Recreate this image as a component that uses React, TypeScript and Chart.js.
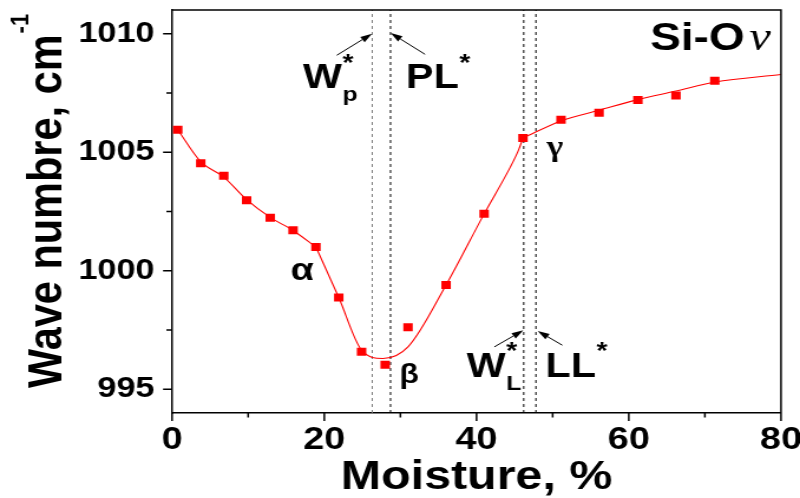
import React, { useEffect, useRef } from "react";
import { Chart, registerables } from "chart.js";

Chart.register(...registerables);

// ---------------- data ----------------
const moisture = [0.75, 3.77, 6.8, 9.8, 12.9, 15.9, 18.9, 21.9, 24.9, 28.0, 31.0, 36.0, 41.0, 46.1, 51.1, 56.1, 61.2, 66.2, 71.3];
const waveNumber = [1005.95, 1004.54, 1004.01, 1002.97, 1002.24, 1001.71, 1001.0, 998.87, 996.58, 996.04, 997.62, 999.4, 1002.41, 1005.6, 1006.37, 1006.67, 1007.2, 1007.39, 1008.02];

// fitted curve, three branches (alpha, beta, gamma)
const fitAlphaX = [0.75, 3.77, 6.8, 9.8, 12.9, 15.9, 18.9];
const fitAlphaY = [1005.95, 1004.6, 1003.95, 1003.0, 1002.25, 1001.7, 1001.0];
const fitBetaX = [18.9, 21.9, 24.9, 27.7, 31.0, 36.0, 41.0, 44.4, 45.5, 46.1];
const fitBetaY = [1001.0, 998.87, 996.65, 996.3, 996.79, 999.4, 1002.4, 1004.35, 1005.08, 1005.6];
const fitGammaX = [46.1, 51.1, 56.1, 61.2, 66.2, 71.3, 80];
const fitGammaY = [1005.6, 1006.32, 1006.77, 1007.22, 1007.58, 1007.96, 1008.28];

const xMin = 0;
const xMax = 80;
const yMin = 994;
const yMax = 1011;
const xMajorTicks = [0, 20, 40, 60, 80];
const xMinorTicks = [10, 30, 50, 70];
const yMajorTicks = [995, 1000, 1005, 1010];
const yMinorTicks = [997.5, 1002.5, 1007.5];

const xTitle = "Moisture, %";
const yTitle = "Wave numbre, cm";
const yTitleSup = "-1";
const panelName = "Si-O";
const panelSymbol = "ν";

// characteristic moisture limits (vertical dashed lines)
const limitX = [26.3, 28.7, 46.2, 47.8];
const limitColors = ["#7a7a7a", "#000000", "#000000", "#000000"];
const limitMain = ["W", "PL", "W", "LL"];
const limitSub = ["p", "", "L", ""];
const limitSup = ["*", "*", "*", "*"];
const limitLabelX = [17.21, 30.73, 38.71, 49.06];
const limitLabelY = [1007.69, 1007.69, 995.52, 995.52];
const arrowFromX = [21.64, 33.24, 42.34, 51.27];
const arrowFromY = [1009.09, 1009.13, 996.79, 996.86];
const arrowToX = [26.27, 28.73, 46.15, 48.04];
const arrowToY = [1010.0, 1010.03, 997.49, 997.46];

// region labels
const regionNames = ["α", "β", "γ"];
const regionX = [17.08, 31.13, 50.31];
const regionY = [999.6, 995.26, 1004.83];

const panelX = 62.8;
const panelY = 1009.3;

// ---------------- chart ----------------
const SANS = "'Liberation Sans', Arial, Helvetica, sans-serif";
const SERIF = "'Liberation Serif', 'Times New Roman', serif";
const RED = "#ff0000";

const toXY = (xs: number[], ys: number[]) => xs.map((x, i) => ({ x, y: ys[i] }));

function drawArrow(ctx: CanvasRenderingContext2D, x0: number, y0: number, x1: number, y1: number) {
  const ang = Math.atan2(y1 - y0, x1 - x0);
  const len = 10;
  const hw = 3.2;
  const bx = x1 - len * Math.cos(ang);
  const by = y1 - len * Math.sin(ang);
  ctx.beginPath();
  ctx.moveTo(x0, y0);
  ctx.lineTo(bx, by);
  ctx.stroke();
  ctx.beginPath();
  ctx.moveTo(x1, y1);
  ctx.lineTo(bx + hw * Math.sin(ang), by - hw * Math.cos(ang));
  ctx.lineTo(bx - hw * Math.sin(ang), by + hw * Math.cos(ang));
  ctx.closePath();
  ctx.fill();
}

const zeroPadding = (s: any) => {
  s.paddingTop = 0;
  s.paddingBottom = 0;
  s.paddingLeft = 0;
  s.paddingRight = 0;
};

const decorPlugin = {
  id: "decor",
  afterDatasetsDraw(chart: any) {
    const { ctx, chartArea: a } = chart;
    const xs = chart.scales.x;
    const ys = chart.scales.y;
    ctx.save();
    ctx.strokeStyle = "#000";
    ctx.fillStyle = "#000";

    // top & right frame
    ctx.lineWidth = 1.5;
    ctx.beginPath();
    ctx.moveTo(a.left, a.top);
    ctx.lineTo(a.right, a.top);
    ctx.lineTo(a.right, a.bottom);
    ctx.stroke();

    // outward tick marks
    ctx.beginPath();
    for (const v of yMajorTicks) {
      const y = ys.getPixelForValue(v);
      ctx.moveTo(a.left, y);
      ctx.lineTo(a.left - 7.6, y);
    }
    for (const v of yMinorTicks) {
      const y = ys.getPixelForValue(v);
      ctx.moveTo(a.left, y);
      ctx.lineTo(a.left - 4.8, y);
    }
    for (const v of xMajorTicks) {
      const x = xs.getPixelForValue(v);
      ctx.moveTo(x, a.bottom);
      ctx.lineTo(x, a.bottom + 8);
    }
    for (const v of xMinorTicks) {
      const x = xs.getPixelForValue(v);
      ctx.moveTo(x, a.bottom);
      ctx.lineTo(x, a.bottom + 4.5);
    }
    ctx.stroke();

    // y axis title with superscript
    ctx.save();
    ctx.translate(a.left - 93.5, a.bottom - 25);
    ctx.rotate(-Math.PI / 2);
    ctx.textAlign = "left";
    ctx.textBaseline = "alphabetic";
    ctx.font = `bold 41.5px ${SANS}`;
    ctx.fillText(yTitle, 0, 0);
    const tw = ctx.measureText(yTitle).width;
    ctx.font = `bold 22px ${SANS}`;
    ctx.fillText(yTitleSup, tw + 1, -28.6);
    ctx.restore();

    // arrows
    ctx.lineWidth = 1;
    for (let i = 0; i < arrowFromX.length; i++) {
      drawArrow(
        ctx,
        xs.getPixelForValue(arrowFromX[i]),
        ys.getPixelForValue(arrowFromY[i]),
        xs.getPixelForValue(arrowToX[i]),
        ys.getPixelForValue(arrowToY[i])
      );
    }

    // limit labels (W_p*, PL*, W_L*, LL*)
    ctx.textAlign = "left";
    ctx.textBaseline = "alphabetic";
    for (let i = 0; i < limitMain.length; i++) {
      const x = xs.getPixelForValue(limitLabelX[i]);
      const y = ys.getPixelForValue(limitLabelY[i]);
      ctx.font = `bold 35px ${SANS}`;
      ctx.fillText(limitMain[i], x, y);
      const w = ctx.measureText(limitMain[i]).width;
      if (limitSub[i]) {
        ctx.font = `bold 21px ${SANS}`;
        ctx.fillText(limitSub[i], x + w + 0.5, y + 13);
      }
      ctx.font = `bold 24px ${SANS}`;
      ctx.fillText(limitSup[i], x + w + 0.5, y - 17.5);
    }

    // region labels
    ctx.textAlign = "center";
    const regionFonts = [`bold 32px ${SANS}`, `bold 27px ${SANS}`, `bold 30px ${SERIF}`];
    for (let i = 0; i < regionNames.length; i++) {
      ctx.font = regionFonts[i];
      ctx.fillText(regionNames[i], xs.getPixelForValue(regionX[i]), ys.getPixelForValue(regionY[i]));
    }

    // panel label "Si-O ν"
    ctx.textAlign = "left";
    const px = xs.getPixelForValue(panelX);
    const py = ys.getPixelForValue(panelY);
    ctx.font = `bold 39px ${SANS}`;
    ctx.fillText(panelName, px, py);
    const pw = ctx.measureText(panelName).width;
    ctx.font = `italic 41px ${SERIF}`;
    ctx.fillText(panelSymbol, px + pw + 4, py);

    ctx.restore();
  },
};

export default function App() {
  const ref = useRef<HTMLCanvasElement>(null);

  useEffect(() => {
    if (!ref.current) return;
    const limitSets = limitX.map((lx, i) => ({
      label: `limit${i}`,
      data: [
        { x: lx, y: yMin },
        { x: lx, y: yMax },
      ],
      showLine: true,
      borderColor: limitColors[i],
      borderWidth: 1,
      borderDash: [3, 3],
      pointRadius: 0,
    }));
    const fitSet = (xs: number[], ys: number[], name: string) => ({
      label: name,
      data: toXY(xs, ys),
      showLine: true,
      borderColor: RED,
      borderWidth: 1.1,
      pointRadius: 0,
      cubicInterpolationMode: "monotone" as const,
    });

    const chart = new Chart(ref.current, {
      type: "scatter",
      data: {
        datasets: [
          {
            label: "Si-O",
            data: toXY(moisture, waveNumber),
            showLine: false,
            pointStyle: "rect",
            pointRadius: 5.66,
            pointBackgroundColor: RED,
            pointBorderWidth: 0,
            borderColor: RED,
          },
          fitSet(fitAlphaX, fitAlphaY, "fit α"),
          fitSet(fitBetaX, fitBetaY, "fit β"),
          fitSet(fitGammaX, fitGammaY, "fit γ"),
          ...limitSets,
        ] as any,
      },
      options: {
        animation: false,
        responsive: false,
        devicePixelRatio: 1,
        events: [],
        layout: { autoPadding: false, padding: { top: 10, right: 16.1, left: 0, bottom: 0 } },
        plugins: {
          legend: { display: false },
          tooltip: { enabled: false },
        },
        scales: {
          x: {
            type: "linear",
            min: xMin,
            max: xMax,
            afterBuildTicks: (s: any) => {
              s.ticks = xMajorTicks.map((v) => ({ value: v }));
            },
            afterFit: (s: any) => {
              s.height = 85;
              zeroPadding(s);
            },
            grid: { display: false, drawTicks: false },
            border: { display: true, color: "#000", width: 1.5 },
            ticks: {
              color: "#000",
              padding: 10.9,
              maxRotation: 0,
              autoSkip: false,
              callback: (v: any) => String(v),
              font: { family: SANS, size: 32, weight: "bold", lineHeight: 1 },
            },
            title: {
              display: true,
              text: xTitle,
              color: "#000",
              padding: { top: 0, bottom: 0 },
              font: { family: SANS, size: 41, weight: "bold", lineHeight: 1 },
            },
          },
          y: {
            type: "linear",
            min: yMin,
            max: yMax,
            afterBuildTicks: (s: any) => {
              s.ticks = yMajorTicks.map((v) => ({ value: v }));
            },
            afterFit: (s: any) => {
              s.width = 145.8;
              zeroPadding(s);
            },
            grid: { display: false, drawTicks: false },
            border: { display: true, color: "#000", width: 1.5 },
            ticks: {
              color: "#000",
              padding: 14.8,
              autoSkip: false,
              callback: (v: any) => String(v),
              font: { family: SANS, size: 29, weight: "bold", lineHeight: 1 },
            },
          },
        },
      },
      plugins: [decorPlugin],
    } as any);
    return () => chart.destroy();
  }, []);

  return (
    <div style={{ position: "absolute", left: 0, top: 0, width: 800, height: 498, background: "#fff" }}>
      <canvas
        ref={ref}
        width={678}
        height={498}
        style={{ width: "800px", height: "498px", display: "block" }}
      />
    </div>
  );
}
